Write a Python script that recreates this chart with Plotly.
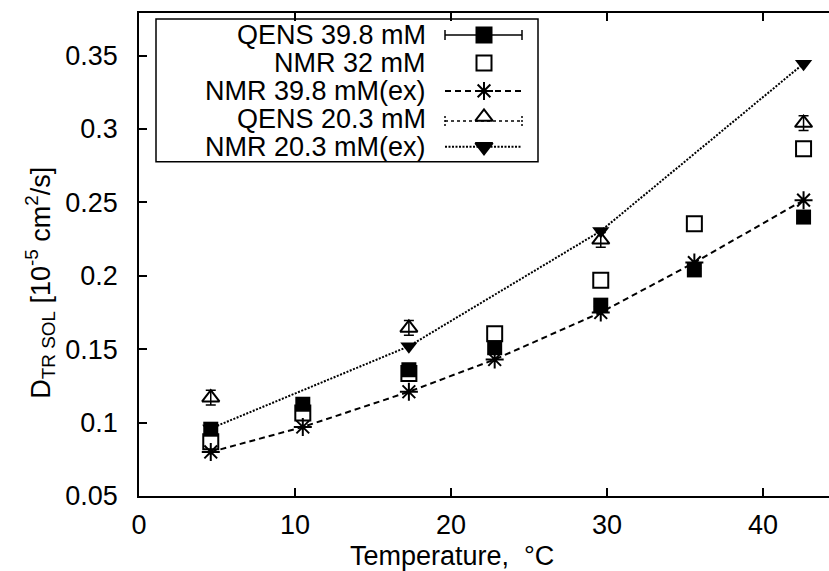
import plotly.graph_objects as go

# ---- data ----
temps = [4.6, 10.5, 17.3, 22.8, 29.6, 35.6, 42.6]
temps_20 = [4.6, 17.3, 29.6, 42.6]
qens_398 = [0.0955, 0.1125, 0.136, 0.151, 0.180, 0.204, 0.240]
qens_398_err = [0.004, 0.004, 0.004, 0.004, 0.004, 0.004, 0.004]
nmr_32 = [0.087, 0.1065, 0.1335, 0.1605, 0.197, 0.2355, 0.2865]
nmr_398_ex = [0.080, 0.097, 0.121, 0.143, 0.175, 0.209, 0.2515]
qens_203 = [0.117, 0.1645, 0.2245, 0.304]
qens_203_err = [0.005, 0.005, 0.005, 0.005]
nmr_203_ex = [0.096, 0.152, 0.2305, 0.3445]

legend_names = ["QENS 39.8 mM", "NMR 32 mM", "NMR 39.8 mM(ex)", "QENS 20.3 mM", "NMR 20.3 mM(ex)"]
x_ticks = [0, 10, 20, 30, 40]
y_ticks = [0.05, 0.1, 0.15, 0.2, 0.25, 0.3, 0.35]
y_ticktext = ["0.05", "0.1", "0.15", "0.2", "0.25", "0.3", "0.35"]

FONT = "Liberation Sans, Arial, sans-serif"
FS = 27
W, H = 829, 571
L, R, T, B = 139, 0, 13, 74.5
PW, PH = W - L - R, H - T - B


def px_x(p):
    return (p - L) / PW


def px_y(p):
    return (H - B - p) / PH


fig = go.Figure()

# NMR 20.3 mM(ex): dotted line + filled down triangles
fig.add_trace(go.Scatter(
    x=temps_20, y=nmr_203_ex, mode="lines+markers",
    line=dict(color="black", width=2, dash="2px,1.5px"),
    marker=dict(symbol="triangle-down", size=15, color="black"),
    showlegend=False))
# NMR 39.8 mM(ex): dashed line + stars
fig.add_trace(go.Scatter(
    x=temps, y=nmr_398_ex, mode="lines+markers",
    line=dict(color="black", width=2, dash="6px,4px"),
    marker=dict(symbol="asterisk-open", size=15, color="black",
                line=dict(color="black", width=2)),
    showlegend=False))
# QENS 20.3 mM: open triangles with error bars
fig.add_trace(go.Scatter(
    x=temps_20, y=qens_203, mode="markers",
    marker=dict(symbol="triangle-up-open", size=15, color="black",
                line=dict(color="black", width=2)),
    error_y=dict(type="data", array=qens_203_err, color="black",
                 thickness=1.5, width=5),
    showlegend=False))
# NMR 32 mM: open squares
fig.add_trace(go.Scatter(
    x=temps, y=nmr_32, mode="markers",
    marker=dict(symbol="square-open", size=15, color="black",
                line=dict(color="black", width=2)),
    showlegend=False))
# QENS 39.8 mM: filled squares with error bars
fig.add_trace(go.Scatter(
    x=temps, y=qens_398, mode="markers",
    marker=dict(symbol="square", size=15, color="black"),
    error_y=dict(type="data", array=qens_398_err, color="black",
                 thickness=1.5, width=5),
    showlegend=False))

# ---- custom gnuplot-style legend (text right, sample to the right) ----
row_y = [35, 63, 91, 119, 147]
text_right = 428
samp_x0, samp_x1, samp_xm = 445, 522, 484

shapes = [dict(type="rect", xref="x2", yref="y2", x0=156, x1=538, y0=19, y1=162,
               line=dict(color="black", width=1.5), fillcolor="white", layer="below")]
# row 1: solid errorbar sample
shapes.append(dict(type="line", xref="x2", yref="y2", x0=samp_x0, x1=samp_x1,
                   y0=row_y[0], y1=row_y[0], line=dict(color="black", width=1.5)))
for xx in (samp_x0, samp_x1):
    shapes.append(dict(type="line", xref="x2", yref="y2", x0=xx, x1=xx,
                       y0=row_y[0] - 5, y1=row_y[0] + 5, line=dict(color="black", width=1.5)))
# row 3: dashed
shapes.append(dict(type="line", xref="x2", yref="y2", x0=samp_x0, x1=samp_x1,
                   y0=row_y[2], y1=row_y[2], line=dict(color="black", width=2, dash="6px,4px")))
# row 4: dotted errorbar sample
shapes.append(dict(type="line", xref="x2", yref="y2", x0=samp_x0, x1=samp_x1,
                   y0=row_y[3] + 2, y1=row_y[3] + 2, line=dict(color="black", width=1.5, dash="3px,3px")))
for xx in (samp_x0, samp_x1):
    shapes.append(dict(type="line", xref="x2", yref="y2", x0=xx, x1=xx,
                       y0=row_y[3] - 3, y1=row_y[3] + 7, line=dict(color="black", width=1.5, dash="2px,2px")))
# row 5: dotted
shapes.append(dict(type="line", xref="x2", yref="y2", x0=samp_x0, x1=samp_x1,
                   y0=row_y[4], y1=row_y[4], line=dict(color="black", width=2, dash="2px,1.5px")))

leg_symbols = ["square", "square-open", "asterisk-open", "triangle-up-open", "triangle-down"]
fig.add_trace(go.Scatter(
    x=[samp_xm] * 5, y=[row_y[0], row_y[1], row_y[2], row_y[3] - 2, row_y[4]],
    xaxis="x2", yaxis="y2", mode="markers",
    marker=dict(symbol=leg_symbols, size=15, color="black",
                line=dict(color="black", width=2)),
    showlegend=False, hoverinfo="skip"))

annotations = []
for name, yy in zip(legend_names, row_y):
    annotations.append(dict(text=name, xref="x2", yref="y2", x=text_right, y=yy,
                            xanchor="right", yanchor="middle", showarrow=False,
                            font=dict(family=FONT, size=FS, color="black")))
# axis titles (paper coordinates so they are not clipped)
annotations.append(dict(text="Temperature,  °C", xref="paper", yref="paper",
                        x=px_x(452), y=px_y(557),
                        xanchor="center", yanchor="middle", showarrow=False,
                        font=dict(family=FONT, size=FS, color="black")))
annotations.append(dict(text="D<sub>TR SOL</sub> [10<sup>-5</sup> cm<sup>2</sup>/s]",
                        xref="paper", yref="paper", x=px_x(40), y=px_y(283), textangle=-90,
                        xanchor="center", yanchor="middle", showarrow=False,
                        font=dict(family=FONT, size=FS, color="black")))

fig.update_layout(
    width=W, height=H,
    margin=dict(l=L, r=R, t=T, b=B),
    paper_bgcolor="white", plot_bgcolor="white",
    font=dict(family=FONT, size=FS, color="black"),
    xaxis=dict(range=[0, (W - L) / 15.6], tickvals=x_ticks, ticks="inside", ticklen=8,
               tickwidth=1.5, tickcolor="black", showline=True, linecolor="black",
               linewidth=1.5, mirror="ticks", showgrid=False, zeroline=False,
               ticklabelstandoff=4),
    yaxis=dict(range=[0.05, 0.379], tickvals=y_ticks, ticktext=y_ticktext, ticks="inside",
               ticklen=8, tickwidth=1.5, tickcolor="black", showline=True,
               linecolor="black", linewidth=1.5, mirror=False, showgrid=False,
               zeroline=False, ticklabelstandoff=14),
    xaxis2=dict(overlaying="x", range=[L, W], visible=False, fixedrange=True),
    yaxis2=dict(overlaying="y", range=[H - B, T], visible=False, fixedrange=True),
    shapes=shapes, annotations=annotations,
)

fig.write_html("out.html")
